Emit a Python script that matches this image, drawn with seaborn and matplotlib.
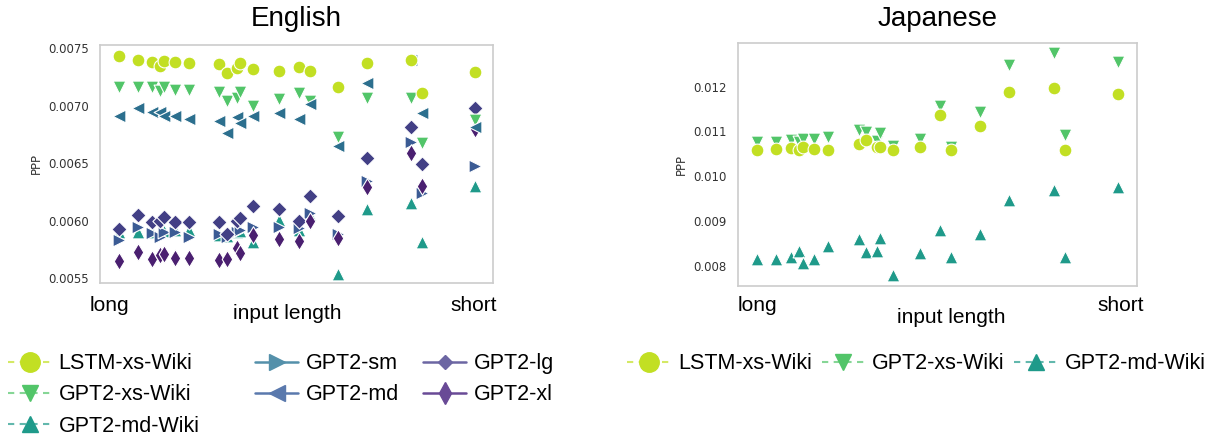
import numpy as np
import pandas as pd
import seaborn as sns
import matplotlib.pyplot as plt
from matplotlib.lines import Line2D
from matplotlib.colors import to_rgb

# x position of each input length (long -> short), shared by both panels
input_pos = [4.8, 9.6, 13.2, 15.3, 16.4, 19.0, 22.6, 30.3, 32.2, 34.8, 35.6, 38.8,
             45.6, 50.6, 53.4, 60.6, 68.0, 79.1, 82.0, 95.3]

# English PPP per model
en_lstm_wiki = [0.00743, 0.00740, 0.00738, 0.00735, 0.00739, 0.00738, 0.00737, 0.007363, 0.007283, 0.007326,
                0.007375, 0.007323, 0.007306, 0.007337, 0.007306, 0.007166, 0.007375, 0.007398, 0.007114, 0.007291]
en_xs_wiki = [0.007161, 0.007161, 0.007161, 0.007131, 0.007161, 0.007137, 0.007137, 0.007123, 0.007044, 0.007065,
              0.007117, 0.0070, 0.007056, 0.007109, 0.007044, 0.006731, 0.007071, 0.007071, 0.006679, 0.006877]
en_md_wiki = [0.00590, 0.005905, 0.00590, 0.00590, 0.00591, 0.00592, 0.00592, 0.00588, 0.00587, 0.00590,
              0.00591, 0.005813, 0.00601, 0.00592, 0.00605, 0.005535, 0.0061, 0.006157, 0.005818, 0.006302]
en_sm = [0.005833, 0.005943, 0.005897, 0.005862, 0.005905, 0.005905, 0.005862, 0.005885, 0.005857, 0.005905,
         0.00592, 0.005949, 0.005943, 0.005934, 0.00607, 0.005885, 0.006349, 0.006688, 0.006244, 0.006479]
en_md = [0.006914, 0.006978, 0.006943, 0.006949, 0.006911, 0.006911, 0.006885, 0.006865, 0.00676, 0.0069,
         0.006853, 0.006911, 0.006935, 0.006885, 0.007016, 0.006653, 0.007196, 0.007398, 0.00694, 0.006818]
en_lg = [0.005926, 0.00605, 0.005992, 0.00600, 0.006036, 0.005992, 0.005992, 0.005992, 0.005885, 0.00600,
         0.006021, 0.006129, 0.006103, 0.006001, 0.006213, 0.006044, 0.006549, 0.006818, 0.006494, 0.006983]
en_xl = [0.00565, 0.005731, 0.005665, 0.005703, 0.005711, 0.005677, 0.005677, 0.005659, 0.005668, 0.005761,
         0.005723, 0.005876, 0.005839, 0.005827, 0.006001, 0.005848, 0.006291, 0.006587, 0.006302, 0.006796]

# Japanese PPP per model
ja_lstm_wiki = [0.010588, 0.010603, 0.010626, 0.01058, 0.010648, 0.010603, 0.010588, 0.010722, 0.01081, 0.010662,
                0.010648, 0.010588, 0.010648, 0.011369, 0.010588, 0.01113, 0.011888, 0.011963, 0.010588, 0.011837]
ja_xs_wiki = [0.01076, 0.010773, 0.01081, 0.010773, 0.010826, 0.010826, 0.010885, 0.011034, 0.010996, 0.01078,
              0.010974, 0.01068, 0.010826, 0.011569, 0.010662, 0.011442, 0.012484, 0.012745, 0.010923, 0.012558]
ja_md_wiki = [0.00815, 0.008163, 0.008208, 0.008342, 0.008074, 0.00815, 0.008447, 0.008596, 0.00832, 0.008342,
              0.008618, 0.0078, 0.008284, 0.008803, 0.008194, 0.008707, 0.009473, 0.009696, 0.008194, 0.009769]

colors = {'LSTM-xs-Wiki': '#c2df23', 'GPT2-xs-Wiki': '#52c569', 'GPT2-md-Wiki': '#1f9a8a',
          'GPT2-sm': '#3b5b94', 'GPT2-md': '#2c6f8e', 'GPT2-lg': '#423f85', 'GPT2-xl': '#4a1f70'}
legend_colors = {'LSTM-xs-Wiki': '#c2df23', 'GPT2-xs-Wiki': '#52c569', 'GPT2-md-Wiki': '#1f9a8a',
                 'GPT2-sm': '#5490aa', 'GPT2-md': '#5a79ad', 'GPT2-lg': '#6c66a3', 'GPT2-xl': '#694a96'}
markers = {'LSTM-xs-Wiki': 'o', 'GPT2-xs-Wiki': 'v', 'GPT2-md-Wiki': '^',
           'GPT2-sm': '>', 'GPT2-md': '<', 'GPT2-lg': 'D', 'GPT2-xl': 'd'}
sizes = {'o': 85, 'v': 85, '^': 85, '>': 85, '<': 85, 'D': 60, 'd': 80}


def to_long(series):
    rows = []
    for name, vals in series.items():
        for x, v in zip(input_pos, vals):
            rows.append({'pos': x, 'PPP': v, 'model': name})
    return pd.DataFrame(rows)


en_df = to_long({'LSTM-xs-Wiki': en_lstm_wiki, 'GPT2-xs-Wiki': en_xs_wiki, 'GPT2-md-Wiki': en_md_wiki,
                 'GPT2-sm': en_sm, 'GPT2-md': en_md, 'GPT2-lg': en_lg, 'GPT2-xl': en_xl})
ja_df = to_long({'LSTM-xs-Wiki': ja_lstm_wiki, 'GPT2-xs-Wiki': ja_xs_wiki, 'GPT2-md-Wiki': ja_md_wiki})

sns.set_style('whitegrid')
plt.rcParams['axes.grid'] = False

fig = plt.figure(figsize=(12.11, 4.36), dpi=100)
ax_en = fig.add_axes([0.0826, 0.351, 0.3245, 0.546])
ax_ja = fig.add_axes([0.6094, 0.344, 0.3295, 0.557])

BIG = 'Liberation Sans'
draw_order = ['GPT2-md-Wiki', 'GPT2-sm', 'GPT2-lg', 'GPT2-xl', 'GPT2-xs-Wiki', 'GPT2-md', 'LSTM-xs-Wiki']
panels = [
    (ax_en, en_df, 'English', (0.00546, 0.00753), [0.0055, 0.006, 0.0065, 0.007, 0.0075], '%.4f',
     19, (0.023, -0.118), (0.951, -0.118), (0.476, -0.151)),
    (ax_ja, ja_df, 'Japanese', (0.00755, 0.01297), [0.008, 0.009, 0.010, 0.011, 0.012], '%.3f',
     17, (0.048, -0.103), (0.96, -0.103), (0.534, -0.152)),
]
for ax, df, ttl, ylim, yt, fmt, tpad, p_long, p_short, p_xl in panels:
    present = [m for m in draw_order if m in df['model'].unique()]
    for m in present:
        sub = df[df['model'] == m]
        sns.scatterplot(data=sub, x='pos', y='PPP', color=colors[m], marker=markers[m],
                        s=sizes[markers[m]], edgecolor='white', linewidth=0.8, ax=ax, legend=False)
    ax.set_xlim(0, 100)
    ax.set_ylim(*ylim)
    ax.set_yticks(yt)
    ax.set_yticklabels([fmt % v for v in yt])
    ax.set_xticks([])
    ax.set_xlabel('')
    ax.set_ylabel('PPP', fontsize=8.5, color='#333333', labelpad=4)
    ax.tick_params(axis='y', labelsize=8.5, colors='#333333', length=0, pad=8)
    for sp in ax.spines.values():
        sp.set_color('#cccccc')
        sp.set_linewidth(1.2)
    ax.set_title(ttl, fontsize=20, family=BIG, color='black', pad=tpad * 0.72)
    ax.text(*p_long, 'long', transform=ax.transAxes, ha='center', va='baseline', fontsize=15,
            family=BIG, color='black')
    ax.text(*p_short, 'short', transform=ax.transAxes, ha='center', va='baseline', fontsize=15,
            family=BIG, color='black')
    ax.text(*p_xl, 'input length', transform=ax.transAxes, ha='center', va='baseline', fontsize=15,
            family=BIG, color='black')


def lighter(c, f=0.3):
    r, g, b = to_rgb(c)
    return (r + (1 - r) * f, g + (1 - g) * f, b + (1 - b) * f)


def handle(m):
    c = legend_colors[m]
    if 'Wiki' in m:
        ms = 14 if m == 'LSTM-xs-Wiki' else 12
        return Line2D([], [], color=lighter(c), marker=markers[m], markersize=ms,
                      markerfacecolor=c, markeredgecolor=c, linestyle=(0, (3.0, 2.6)), linewidth=1.5)
    ms = {'>': 12, '<': 12, 'D': 7, 'd': 11}[markers[m]]
    return Line2D([], [], color=c, marker=markers[m], markersize=ms,
                  markerfacecolor=c, markeredgecolor=c, linestyle='-', linewidth=1.8)


leg_kw = dict(loc='upper left', frameon=False, prop={'family': BIG, 'size': 15.5}, labelcolor='black',
              handlelength=2.0, handletextpad=0.35, labelspacing=0.48, borderaxespad=0, borderpad=0.4)
en_cols = [(0.0, ['LSTM-xs-Wiki', 'GPT2-xs-Wiki', 'GPT2-md-Wiki']),
           (247 / 1211, ['GPT2-sm', 'GPT2-md']),
           (415 / 1211, ['GPT2-lg', 'GPT2-xl'])]
for x0, names in en_cols:
    fig.legend([handle(m) for m in names], names, bbox_to_anchor=(x0 - 0.0005, 0.21), **leg_kw)

ja_models = ['LSTM-xs-Wiki', 'GPT2-xs-Wiki', 'GPT2-md-Wiki']
fig.legend([handle(m) for m in ja_models], ja_models, bbox_to_anchor=(0.511, 0.21), ncol=3,
           columnspacing=0.45, **leg_kw)

fig.savefig('out.png', dpi=100)
